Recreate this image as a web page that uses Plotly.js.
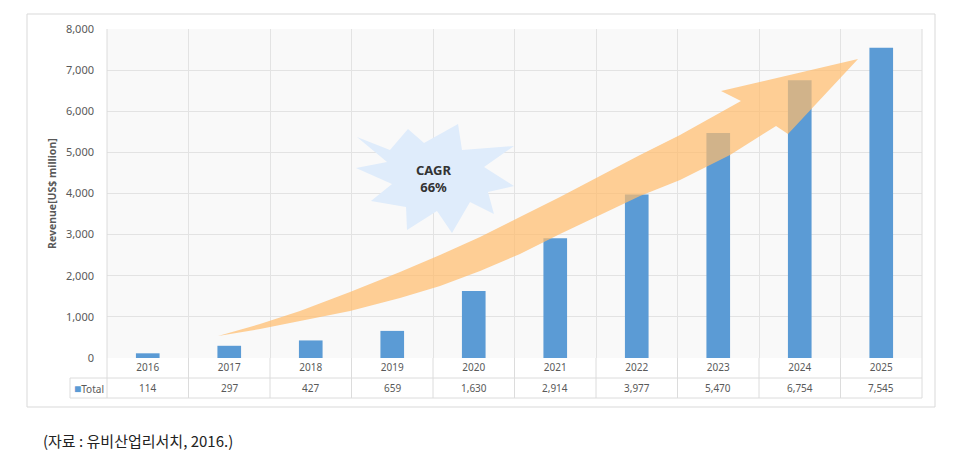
<!DOCTYPE html>
<html>
<head>
<meta charset="utf-8">
<script src="https://cdn.plot.ly/plotly-3.0.1.min.js"></script>
<style>html,body{margin:0;padding:0;background:#fff;}#chart{width:970px;height:462px;}</style>
</head>
<body>
<div id="chart"></div>
<script>
// ---- data ----
const categories = ['2016','2017','2018','2019','2020','2021','2022','2023','2024','2025'];
const totals = [114, 297, 427, 659, 1630, 2914, 3977, 5470, 6754, 7545];
const totalLabels = ['114','297','427','659','1,630','2,914','3,977','5,470','6,754','7,545'];
const seriesName = 'Total';
const yTitle = 'Revenue[US$ million]';
const cagrText = 'CAGR<br>66%';
const sourceText = '(자료 : 유비산업리서치, 2016.)';

// ---- geometry helpers (decoration only) ----
const W = 970, H = 462;
const M = {l: 107, r: 48, t: 29, b: 104};
const PW = W - M.l - M.r, PH = H - M.t - M.b;
const px = x => (x - M.l) / PW;
const py = y => (H - M.b - y) / PH;
function pathFrom(pts) {
  return pts.map((p, i) => (i ? 'L' : 'M') + px(p[0]).toFixed(4) + ',' + py(p[1]).toFixed(4)).join(' ') + ' Z';
}

const arrowPts = [
  [218,336],[260,324],[300,311],[350,292],[400,272],[440,255],[480,237],[520,217],[560,197],[600,176],[640,155],[680,135],[741,101],
  [721,91],[858,59],[788,134],[776,126],
  [730,155],[680,180],[640,196],[600,215],[560,234],[520,254],[480,271],[440,286],[400,298],[350,311],[300,321],[260,329]
];
const starPts = [
  [357,137],[390,150],[408,129],[424,143],[458,124],[462,150],[514,146],[484,167],[514,186],[488,192],
  [494,214],[470,202],[452,233],[437,211],[407,230],[406,207],[371,201],[392,184],[356,168],[387,162]
];

const blue = '#5b9bd5';
const grid = '#e3e3e3';
const tableLine = '#dcdcdc';

const shapes = [];
// outer frame
shapes.push({type:'rect', xref:'paper', yref:'paper', x0:px(27), x1:px(935), y0:py(407), y1:py(14),
  line:{color:'#d9d9d9', width:1}, fillcolor:'rgba(0,0,0,0)', layer:'below'});
// table horizontal lines
[378, 398].forEach(y => shapes.push({type:'line', xref:'paper', yref:'paper', x0:px(70), x1:px(922), y0:py(y), y1:py(y),
  line:{color:tableLine, width:1}}));
// table left edge for legend cell
shapes.push({type:'line', xref:'paper', yref:'paper', x0:px(70), x1:px(70), y0:py(378), y1:py(398), line:{color:tableLine, width:1}});
// plot + table vertical borders
[107, 922].forEach(x => shapes.push({type:'line', xref:'paper', yref:'paper', x0:px(x), x1:px(x), y0:py(398), y1:py(29),
  line:{color:tableLine, width:1}}));
// category boundaries through the table
for (let i = 0; i < categories.length - 1; i++) {
  shapes.push({type:'line', xref:'x', yref:'paper', x0:i + 0.5, x1:i + 0.5, y0:py(398), y1:0, line:{color:tableLine, width:1}});
}
// starburst
shapes.push({type:'path', xref:'paper', yref:'paper', path:pathFrom(starPts), fillcolor:'rgb(223,236,251)', line:{width:0}, layer:'above'});
// arrow
shapes.push({type:'path', xref:'paper', yref:'paper', path:pathFrom(arrowPts), fillcolor:'rgba(255,188,110,0.72)', line:{width:0}, layer:'above'});

const annotations = [];
totalLabels.forEach((t, i) => annotations.push({xref:'x', yref:'paper', x:i, y:py(388), text:t, showarrow:false,
  font:{family:'Noto Sans, sans-serif', size:10, color:'#595959'}, yanchor:'middle'}));
annotations.push({xref:'paper', yref:'paper', x:px(72), y:py(388), xanchor:'left', yanchor:'middle', showarrow:false,
  text:'<span style="color:' + blue + ';font-size:12px">■</span>' + seriesName, font:{family:'Noto Sans, sans-serif', size:10, color:'#595959'}});
annotations.push({xref:'paper', yref:'paper', x:px(52), y:py(194), textangle:-90, showarrow:false, xanchor:'center', yanchor:'middle',
  text:'<b>' + yTitle + '</b>', font:{family:'Noto Sans, sans-serif', size:10.5, color:'#595959'}});
annotations.push({xref:'paper', yref:'paper', x:px(433), y:py(178), showarrow:false, xanchor:'center', yanchor:'middle',
  text:'<b>' + cagrText + '</b>', font:{family:'Noto Sans, sans-serif', size:13, color:'#333333'}});
annotations.push({xref:'paper', yref:'paper', x:px(41), y:py(440), showarrow:false, xanchor:'left', yanchor:'middle',
  text:sourceText, font:{family:'Noto Sans CJK KR, sans-serif', size:15, color:'#222222'}});

const trace = {
  type:'bar', x:categories, y:totals, name:seriesName, marker:{color:blue}, width:0.29, hoverinfo:'x+y'
};

const layout = {
  width:W, height:H, margin:M, showlegend:false,
  paper_bgcolor:'#ffffff', plot_bgcolor:'#f9f9f9',
  font:{family:'Noto Sans, sans-serif', color:'#595959'},
  xaxis:{type:'category', range:[-0.5, categories.length - 0.5], tickson:'boundaries', showgrid:true, gridcolor:grid, ticks:'', ticklen:0,
    tickfont:{size:10, color:'#595959'}, zeroline:false, showline:false, ticklabelstandoff:2, fixedrange:true},
  yaxis:{range:[0,8000], dtick:1000, tickformat:',', showgrid:true, gridcolor:grid, zeroline:false, showline:false,
    ticks:'', tickfont:{size:11, color:'#595959'}, ticklabelstandoff:12, fixedrange:true},
  shapes:shapes, annotations:annotations
};

Plotly.newPlot('chart', [trace], layout, {displayModeBar:false, staticPlot:true});
</script>
</body>
</html>
